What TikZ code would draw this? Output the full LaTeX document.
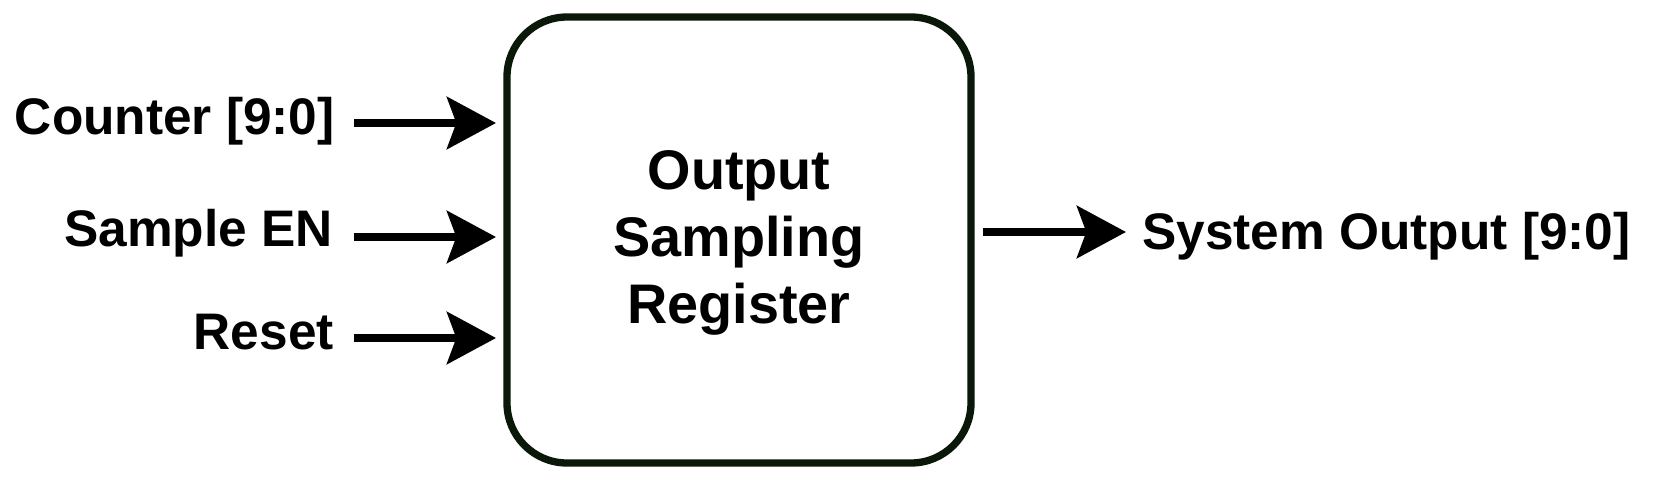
\documentclass[tikz,border=0pt]{standalone}
\usepackage{fontspec}
\setmainfont{Liberation Sans}
\usetikzlibrary{arrows.meta}
\definecolor{boxline}{RGB}{10,24,10}
\tikzset{
  lbl/.style={inner sep=0pt, font=\bfseries\fontsize{38.55pt}{46pt}\selectfont},
  boxtxt/.style={inner sep=0pt, font=\bfseries\fontsize{41.85pt}{50pt}\selectfont},
  sig/.style={line width=6pt, -{Stealth[length=36.75pt, width=39pt, inset=7pt]}},
  regbox/.style={draw=boxline, line width=5.5pt, rounded corners=45pt, fill=white,
    minimum width=348pt, minimum height=334.5pt, inner sep=0pt}
}
\begin{document}
\begin{tikzpicture}[x=0.75pt, y=-0.75pt]
\useasboundingbox (0,0) rectangle (1656,482);
\node[regbox] (box) at (739,240) {};
\node[boxtxt, anchor=base] (t1) at (739,189) {Output};
\node[boxtxt, anchor=base] (t2) at (739,256) {Sampling};
\node[boxtxt, anchor=base] (t3) at (739,323) {Register};
\node[lbl, anchor=base east] (cnt) at (335,134) {Counter [9:0]};
\node[lbl, anchor=base east] (sen) at (333,246) {Sample EN};
\node[lbl, anchor=base east] (rst) at (334,349) {Reset};
\node[lbl, anchor=base west] (out) at (1142,249) {System Output [9:0]};
\coordinate (c1) at (354,123);
\coordinate (c2) at (354,237);
\coordinate (c3) at (354,338);
\coordinate (o1) at (1126,232);
\draw[sig, shorten >=5.5pt] (c1) -- (c1 -| box.west);
\draw[sig, shorten >=5.5pt] (c2) -- (c2 -| box.west);
\draw[sig, shorten >=5.5pt] (c3) -- (c3 -| box.west);
\draw[sig, shorten <=6pt] (o1 -| box.east) -- (o1);
\end{tikzpicture}
\end{document}
